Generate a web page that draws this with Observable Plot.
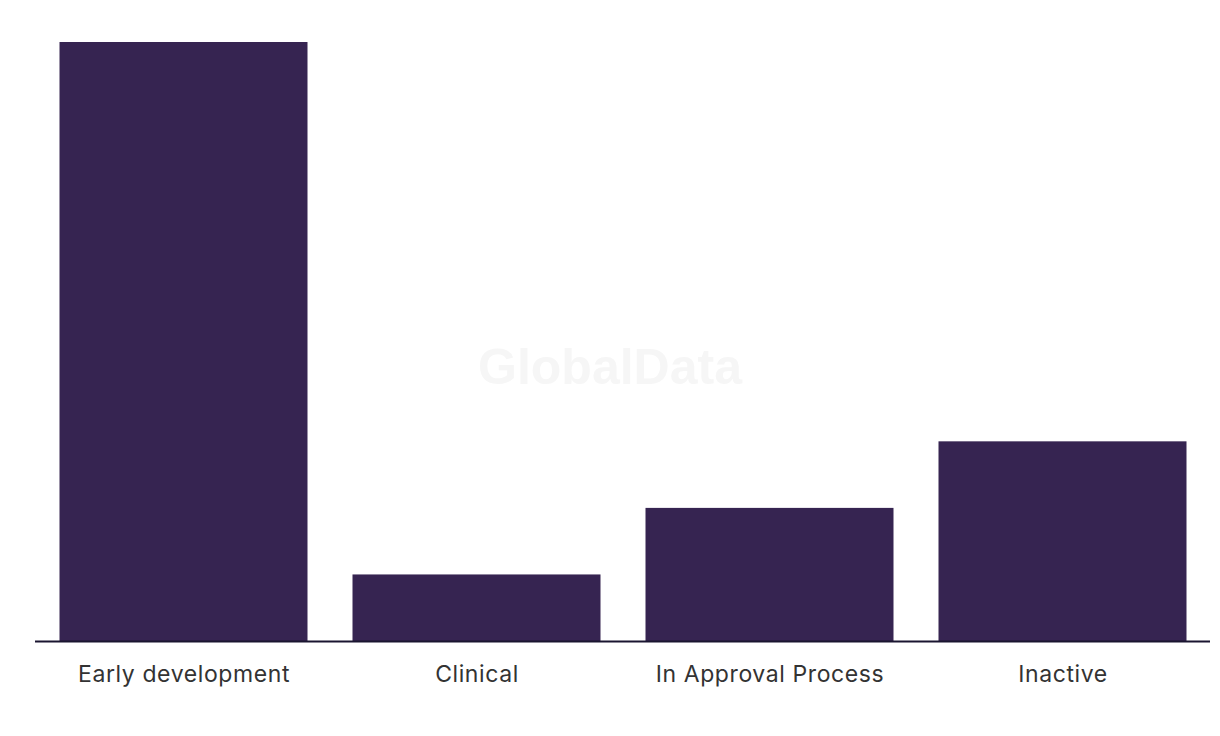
<!DOCTYPE html>
<html>
<head>
<meta charset="utf-8">
<script src="https://cdn.jsdelivr.net/npm/d3@7"></script>
<script src="https://cdn.jsdelivr.net/npm/@observablehq/plot@0.6"></script>
<style>
  html, body { margin: 0; padding: 0; background: #fff; }
  #chart { position: relative; width: 1220px; height: 736px; }
  #wm { position: absolute; left: 0; top: 338px; width: 1220px; text-align: center;
        font-family: "Liberation Sans", Arial, sans-serif; font-weight: bold; font-size: 50px;
        color: #f6f6f6; pointer-events: none; }
  #chart svg g[aria-label="x-axis tick label"] text { letter-spacing: 0.6px; }
</style>
</head>
<body>
<div id="chart"></div>
<script>
const categories = ["Early development", "Clinical", "In Approval Process", "Inactive"];
const values = [9, 1, 2, 3];

const data = categories.map((c, i) => ({stage: c, count: values[i]}));

const plot = Plot.plot({
  width: 1220,
  height: 700,
  marginLeft: 35,
  marginRight: 10,
  marginTop: 42,
  marginBottom: 59,
  style: {fontFamily: "Inter, 'Noto Sans', sans-serif", fontSize: "23px", color: "#333", background: "#fff"},
  x: {domain: categories, padding: 0, label: null, tickSize: 0, tickPadding: 24},
  y: {domain: [0, 9], axis: null},
  marks: [
    Plot.barY(data, {x: "stage", y: "count", fill: "#362451", insetLeft: 22.5, insetRight: 22.5}),
    Plot.ruleY([0], {stroke: "#1a1530", strokeWidth: 2})
  ]
});
document.getElementById("chart").appendChild(plot);
const wm = document.createElement("div");
wm.id = "wm";
wm.textContent = "GlobalData";
document.getElementById("chart").appendChild(wm);
</script>
</body>
</html>
